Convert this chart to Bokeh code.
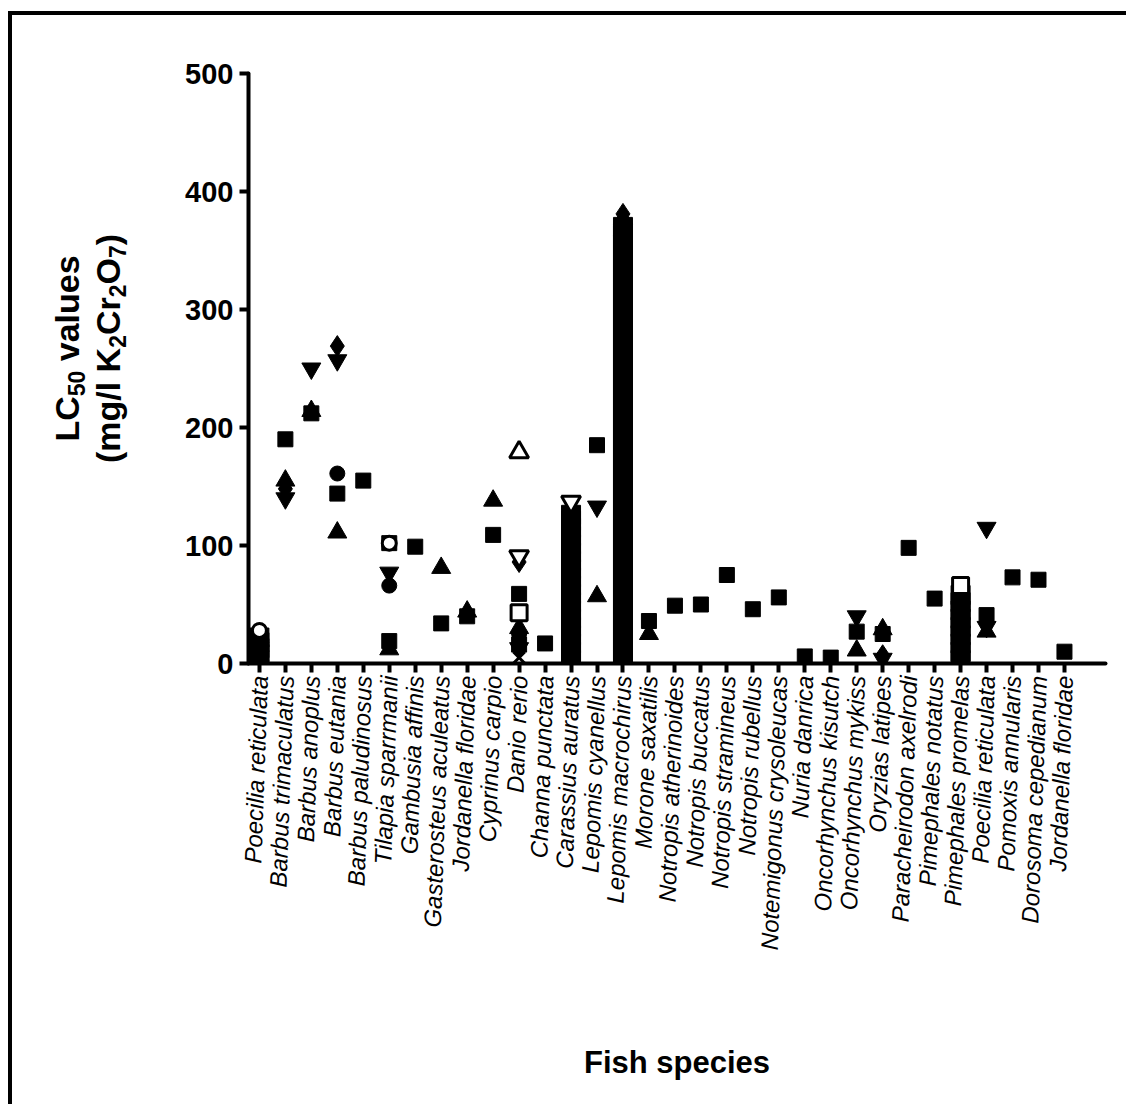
import math
from bokeh.plotting import figure
from bokeh.layouts import row
from bokeh.models import Range1d, FixedTicker
from bokeh.core.properties import value
from bokeh.embed import file_html
from bokeh.resources import INLINE

species = [
    "Poecilia reticulata", "Barbus trimaculatus", "Barbus anoplus", "Barbus eutania",
    "Barbus paludinosus", "Tilapia sparrmanii", "Gambusia affinis", "Gasterosteus aculeatus",
    "Jordanella floridae", "Cyprinus carpio", "Danio rerio", "Channa punctata",
    "Carassius auratus", "Lepomis cyanellus", "Lepomis macrochirus", "Morone saxatilis",
    "Notropis atherinoides", "Notropis buccatus", "Notropis stramineus", "Notropis rubellus",
    "Notemigonus crysoleucas", "Nuria danrica", "Oncorhynchus kisutch", "Oncorhynchus mykiss",
    "Oryzias latipes", "Paracheirodon axelrodi", "Pimephales notatus", "Pimephales promelas",
    "Poecilia reticulata", "Pomoxis annularis", "Dorosoma cepedianum", "Jordanella floridae",
]
y_ticks = [0, 100, 200, 300, 400, 500]

# filled squares
square_cat = [1, 1, 1, 2, 3, 4, 5, 6, 6, 7, 8, 9, 10, 11, 11, 12, 14, 16, 17, 18, 19, 20,
              21, 22, 23, 24, 25, 26, 27, 29, 30, 31, 32]
square_val = [4, 10, 16, 190, 212, 144, 155, 102, 19, 99, 34, 40, 109, 59, 16, 17, 185, 36,
              49, 50, 75, 46, 56, 6, 5, 27, 25, 98, 55, 41, 73, 71, 10]
# filled triangles
tri_cat = [1, 2, 3, 4, 6, 8, 9, 10, 11, 14, 16, 24, 25, 29, 15]
tri_val = [7, 155, 214, 111, 12, 81, 44, 138, 30, 57, 25, 11, 29, 27, 377]
# filled inverted triangles
itri_cat = [1, 2, 3, 4, 6, 11, 14, 24, 25, 29, 29]
itri_val = [13, 140, 250, 257, 77, 13, 133, 40, 4, 115, 31]
# filled diamonds
dia_cat = [1, 2, 4, 11, 11, 25, 15]
dia_val = [19, 148, 269, 86, 22, 7, 381]
# filled circles
circ_cat = [4, 6, 11]
circ_val = [161, 66, 25]
# open markers
ocirc_cat = [1, 6]
ocirc_val = [28, 102]
osq_cat = [11, 28]
osq_val = [43, 66]
otri_cat = [11]
otri_val = [179]
oitri_cat = [11, 13]
oitri_val = [91, 137]
x_cat = [11]
x_val = [5]

# densely stacked results (drawn as overlapping markers)
poecilia_stack = [3, 8, 13, 18, 22]
carassius_stack = [3, 10, 17, 24, 31, 38, 45, 52, 59, 66, 73, 80, 87, 94, 101, 108, 115, 121, 126]
lepomis_stack = [3, 11, 19, 27, 35, 43, 51, 59, 67, 75, 83, 91, 99, 107, 115, 123, 131, 139,
                 147, 155, 163, 171, 179, 187, 195, 203, 211, 219, 227, 235, 243, 251, 259,
                 267, 275, 283, 291, 299, 307, 315, 323, 331, 339, 347, 355, 363, 370]
pimephales_stack = [3, 10, 17, 24, 31, 38, 45, 52, 58]

# y-axis title pieces: (text, is_subscript)
ylabel_line1 = [("LC", False), ("50", True), (" values", False)]
ylabel_line2 = [("(mg/l K", False), ("2", True), ("Cr", False), ("2", True),
                ("O", False), ("7", True), (")", False)]

# ---- layout (pixels) ----
X0, X1, Y0, Y1 = 0.58, 33.58, 0, 500
PAGE_L, PAGE_T = 12, 15            # canvas origin on the page
CANVAS_H = 1089
TITLE_W = 140                      # left strip holding the y-axis title
MAIN_W = 1114 - TITLE_W
FRAME_L, FRAME_T, FRAME_W, FRAME_H = 236 - TITLE_W, 58, 857, 590

K = "black"
FONT = "Liberation Sans"

p = figure(width=MAIN_W, height=CANVAS_H, x_range=Range1d(X0, X1), y_range=Range1d(Y0, Y1),
           output_backend="svg", toolbar_location=None, title=None,
           min_border_left=FRAME_L, min_border_right=MAIN_W - FRAME_L - FRAME_W,
           min_border_top=FRAME_T, min_border_bottom=CANVAS_H - FRAME_T - FRAME_H)
p.xgrid.visible = False
p.ygrid.visible = False
p.outline_line_color = None
p.background_fill_color = "white"
p.border_fill_color = "white"

stack_x = ([1] * len(poecilia_stack) + [13] * len(carassius_stack)
           + [15] * len(lepomis_stack) + [28] * len(pimephales_stack))
stack_y = poecilia_stack + carassius_stack + lepomis_stack + pimephales_stack
p.scatter(stack_x, stack_y, marker="square", size=19, color=K)
p.scatter(square_cat, square_val, marker="square", size=15, color=K)
p.scatter(tri_cat, tri_val, marker="triangle", size=19, color=K)
p.scatter(itri_cat, itri_val, marker="inverted_triangle", size=19, color=K)
p.scatter(dia_cat, dia_val, marker="diamond", size=21, color=K)
p.scatter(circ_cat, circ_val, marker="circle", size=15, color=K)
p.scatter(ocirc_cat, ocirc_val, marker="circle", size=14, fill_color="white", line_color=K, line_width=3)
p.scatter(osq_cat, osq_val, marker="square", size=16, fill_color="white", line_color=K, line_width=3)
p.scatter(otri_cat, otri_val, marker="triangle", size=19, fill_color="white", line_color=K, line_width=3)
p.scatter(oitri_cat, oitri_val, marker="inverted_triangle", size=19, fill_color="white", line_color=K, line_width=3)
p.scatter(x_cat, x_val, marker="x", size=16, line_color=K, line_width=3)

for ax in (p.xaxis, p.yaxis):
    ax.axis_line_width = 4
    ax.axis_line_color = K
    ax.axis_line_cap = "round"
    ax.major_tick_line_width = 4
    ax.major_tick_line_color = K
    ax.major_tick_in = 0
    ax.major_tick_out = 9
    ax.minor_tick_out = 0
    ax.minor_tick_in = 0
    ax.axis_label_text_font = FONT
    ax.axis_label_text_font_style = "bold"
    ax.axis_label_text_color = K
    ax.major_label_text_color = K
    ax.major_label_text_font = FONT

p.xaxis.ticker = FixedTicker(ticks=list(range(1, len(species) + 1)))
p.xaxis.major_label_overrides = {i + 1: s for i, s in enumerate(species)}
p.xaxis.major_label_orientation = math.radians(88)
p.xaxis.major_label_text_font_style = "italic"
p.xaxis.major_label_text_font_size = "24px"
p.xaxis.major_label_standoff = 3
p.xaxis.axis_label = "Fish species"
p.xaxis.axis_label_text_font_size = "31px"
p.xaxis.axis_label_standoff = 91

p.yaxis.ticker = FixedTicker(ticks=y_ticks)
p.yaxis.major_label_text_font_style = "bold"
p.yaxis.major_label_text_font_size = "29px"
p.yaxis.major_label_standoff = 6

# ---- y-axis title strip (text with real smaller subscripts) ----
# In a row, this strip's frame is aligned with the main plot's frame, so its
# y range is expressed in page pixels of that frame (top -> bottom).
FRAME_TOP_PY = PAGE_T + FRAME_T
FRAME_BOT_PY = PAGE_T + FRAME_T + FRAME_H
lab = figure(width=TITLE_W, height=CANVAS_H, x_range=Range1d(0, TITLE_W),
             y_range=Range1d(FRAME_BOT_PY, FRAME_TOP_PY), output_backend="svg",
             toolbar_location=None, title=None, x_axis_type=None, y_axis_type=None,
             min_border=0, min_border_left=0, min_border_right=0,
             min_border_top=FRAME_T, min_border_bottom=CANVAS_H - FRAME_T - FRAME_H)
lab.outline_line_color = None
lab.background_fill_color = "white"
lab.border_fill_color = "white"

W = {'L': 611, 'C': 722, 'v': 556, 'a': 556, 'l': 278, 'u': 611, 'e': 556, 's': 556,
     ' ': 278, '(': 333, ')': 333, 'm': 889, 'g': 611, '/': 278, 'K': 722, 'r': 389,
     'O': 778}
MAIN, SUB, SUB_SHIFT = 34, 23, 6
MID = 0.32   # distance (in em) from a "middle"-anchored text's centre to its baseline

def tw(s, size):
    return sum(W.get(c, 556) for c in s) * size / 1000.0

def add_rotated_line(pieces, baseline_px, center_py):
    total = sum(tw(t, SUB if s else MAIN) for t, s in pieces)
    cur = center_py + total / 2.0          # page y where the line starts (bottom)
    for t, s in pieces:
        size = SUB if s else MAIN
        lead = len(t) - len(t.lstrip(" "))
        start = cur - tw(" " * lead, size)
        bx = baseline_px + (SUB_SHIFT if s else 0)
        lx = bx - MID * size - PAGE_L
        lab.text(x=[lx], y=[start], text=[t.lstrip(" ")], angle=math.pi / 2,
                 text_align="left", text_baseline="middle",
                 text_font=value(FONT), text_font_style="bold",
                 text_font_size=f"{size}px", text_color=K)
        cur -= tw(t, size)

add_rotated_line(ylabel_line1, 77, 348)
add_rotated_line(ylabel_line2, 118, 348)

layout = row(lab, p, spacing=0,
             styles={"border-top": "4px solid black", "border-left": "4px solid black",
                     "margin-left": "8px", "margin-top": "11px"})

open("out.html", "w").write(file_html(layout, INLINE))
